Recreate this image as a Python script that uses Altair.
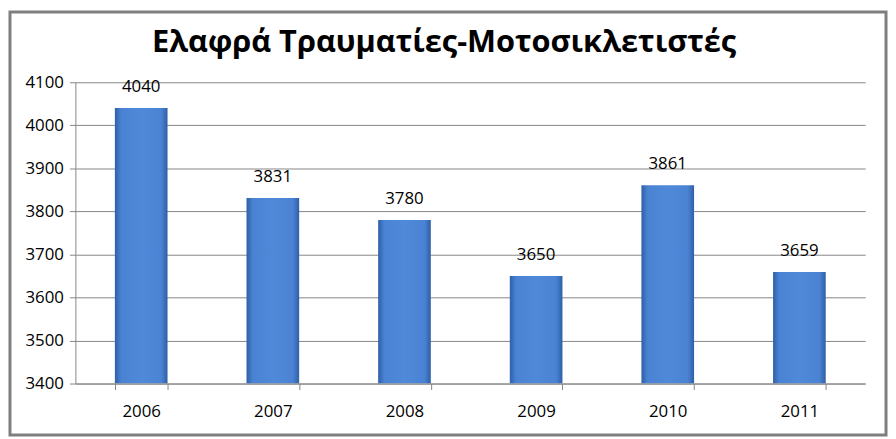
import altair as alt
import pandas as pd

years = ["2006", "2007", "2008", "2009", "2010", "2011"]
values = [4040, 3831, 3780, 3650, 3861, 3659]
title_text = "Ελαφρά Τραυματίες-Μοτοσικλετιστές"

df = pd.DataFrame({"year": years, "value": values})
tdf = pd.DataFrame({"t": [title_text]})

FONT = "Open Sans"

x_enc = alt.X("year:N", sort=years, title=None,
              scale=alt.Scale(paddingInner=0.6, paddingOuter=0.3),
              axis=alt.Axis(labelAngle=0, labelFontSize=17, labelFont=FONT,
                            labelColor="#000", labelPadding=14,
                            tickBand="extent", tickSize=6, tickColor="#868686",
                            domainColor="#868686", grid=False))
y_enc = alt.Y("value:Q", title=None,
              scale=alt.Scale(domain=[3400, 4100], nice=False, zero=False),
              axis=alt.Axis(values=[3400, 3500, 3600, 3700, 3800, 3900, 4000, 4100],
                            format="d",
                            labelFontSize=17, labelFont=FONT, labelColor="#000",
                            labelPadding=6, tickSize=6, tickColor="#868686",
                            domainColor="#868686", gridColor="#868686",
                            gridWidth=1))

grad = alt.Gradient(
    gradient="linear",
    stops=[alt.GradientStop(color="#2f5fa8", offset=0),
           alt.GradientStop(color="#4a83d3", offset=0.12),
           alt.GradientStop(color="#5089d8", offset=0.5),
           alt.GradientStop(color="#4a83d3", offset=0.88),
           alt.GradientStop(color="#2f5fa8", offset=1)],
    x1=0, x2=1, y1=0, y2=0,
)

bars = alt.Chart(df).mark_bar(color=grad, clip=True).encode(
    x=x_enc, y=y_enc, y2=alt.datum(3400)
)

labels = alt.Chart(df).mark_text(
    baseline="bottom", dy=-12, fontSize=17, font=FONT, color="#000"
).encode(x=alt.X("year:N", sort=years), y="value:Q", text="value:Q")

title = alt.Chart(tdf).mark_text(
    fontSize=31, font=FONT, fontWeight="bold", color="#000",
    align="center", baseline="middle", clip=False
).encode(x=alt.value(372), y=alt.value(-40), text="t:N")

frame = alt.Chart(tdf).mark_rect(
    fill=None, stroke="#7f7f7f", strokeWidth=3, clip=False
).encode(x=alt.value(-66), x2=alt.value(797 + 21),
         y=alt.value(-71), y2=alt.value(304 + 52))

chart = alt.layer(bars, labels, title, frame).properties(
    width=797, height=304,
    autosize=alt.AutoSizeParams(type="none"),
    padding={"left": 68, "top": 73, "right": 23, "bottom": 54},
    background="white",
).configure_view(stroke=None)

chart.save("out.html", embed_options={"renderer": "svg", "actions": False})
